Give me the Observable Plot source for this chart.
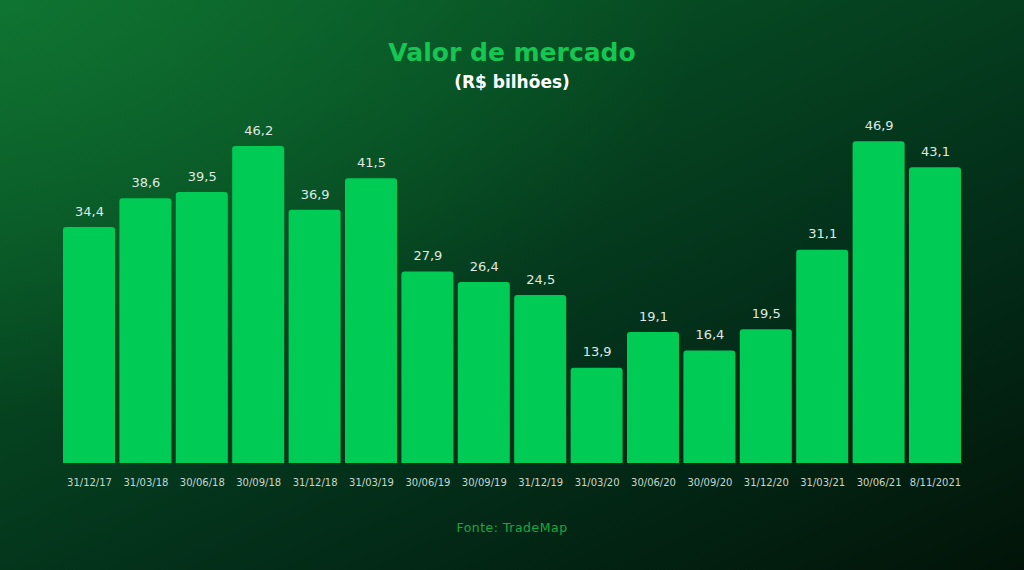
<!DOCTYPE html>
<html>
<head>
<meta charset="utf-8">
<script src="https://cdn.jsdelivr.net/npm/d3@7"></script>
<script src="https://cdn.jsdelivr.net/npm/@observablehq/plot@0.6"></script>
<style>
  html, body { margin: 0; padding: 0; }
  body { width: 1024px; height: 570px; overflow: hidden; }
  #wrap {
    position: relative; width: 1024px; height: 570px;
    background:
      radial-gradient(ellipse 700px 420px at 0px 0px, rgba(20,130,55,0.55), rgba(20,130,55,0) 100%),
      linear-gradient(155deg, #0a622a 0%, #064a22 30%, #03301a 62%, #021409 100%);
    font-family: "Open Sans", "DejaVu Sans", sans-serif;
  }
  #title {
    position: absolute; top: 38px; left: 0; width: 1024px; text-align: center;
    font-family: "DejaVu Sans", sans-serif; font-weight: bold; font-size: 25px;
    color: #16c653; line-height: 30px;
  }
  #subtitle {
    position: absolute; top: 70px; left: 0; width: 1024px; text-align: center;
    font-family: "DejaVu Sans", sans-serif; font-weight: bold; font-size: 17px;
    color: #ffffff; line-height: 24px;
  }
  #chart { position: absolute; top: 100px; left: 0; }
  #caption {
    position: absolute; top: 519px; left: 0; width: 1024px; text-align: center;
    font-family: "DejaVu Sans", sans-serif; font-size: 12.5px; color: #18a845;
    letter-spacing: 0.5px; line-height: 18px;
  }
</style>
</head>
<body>
<div id="wrap">
  <div id="title">Valor de mercado</div>
  <div id="subtitle">(R$ bilhões)</div>
  <div id="chart"></div>
  <div id="caption">Fonte: TradeMap</div>
</div>
<script>
const dates = ["31/12/17","31/03/18","30/06/18","30/09/18","31/12/18","31/03/19","30/06/19","30/09/19","31/12/19","31/03/20","30/06/20","30/09/20","31/12/20","31/03/21","30/06/21","8/11/2021"];
const values = [34.4,38.6,39.5,46.2,36.9,41.5,27.9,26.4,24.5,13.9,19.1,16.4,19.5,31.1,46.9,43.1];

const data = dates.map((d, i) => ({date: d, value: values[i]}));
const fmt = v => v.toFixed(1).replace(".", ",");

const chart = Plot.plot({
  width: 1024,
  height: 400,
  marginLeft: 63,
  marginRight: 63,
  marginTop: 20,
  marginBottom: 37,
  style: { background: "transparent", color: "#c9d6cd", fontFamily: "DejaVu Sans, sans-serif", overflow: "visible" },
  x: { domain: dates, paddingInner: 0.078, paddingOuter: 0, round: false, label: null, tickSize: 0, tickPadding: 15 },
  y: { domain: [0, 50], axis: null },
  marks: [
    Plot.barY(data, { x: "date", y: "value", fill: "#00cc55", rx: 3, insetBottom: -5, clip: true }),
    Plot.text(data, { x: "date", y: "value", text: d => fmt(d.value), dy: -16, fill: "#dfe9e2", fontSize: 13, letterSpacing: 0.5 }),
    Plot.axisX({ tickSize: 0, tickPadding: 15, fontSize: 10, fill: "#c9d6cd", label: null })
  ]
});
document.getElementById("chart").appendChild(chart);
</script>
</body>
</html>
